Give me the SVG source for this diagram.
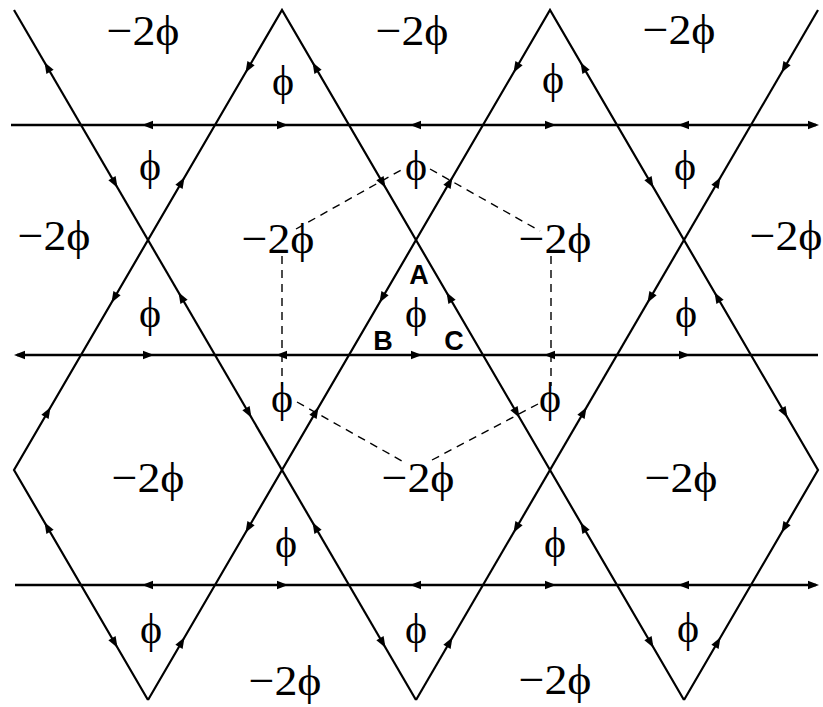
<svg xmlns="http://www.w3.org/2000/svg" xmlns:xlink="http://www.w3.org/1999/xlink" width="823" height="707" viewBox="0 0 823 707">
<style>
.ln{fill:none;stroke:#000;stroke-width:2.2;stroke-linejoin:miter;stroke-miterlimit:10}
.hz{fill:none;stroke:#000;stroke-width:2.4}
.ds{fill:none;stroke:#000;stroke-width:1.4;stroke-dasharray:8 6}
.ah{fill:#000}
.f{font-family:"Liberation Serif","DejaVu Serif",serif;font-size:42px;fill:#000;text-anchor:middle}
.m{font-family:"Liberation Serif","DejaVu Serif",serif;font-size:43px;fill:#000;text-anchor:middle}
.lb{font-family:"Liberation Sans",Arial,sans-serif;font-size:27px;font-weight:bold;fill:#000;text-anchor:middle}
</style>
<defs>
<path id="a" d="M6,0 L-5,-4.2 L-5,4.2 Z"/>
</defs>
<rect width="823" height="707" fill="#fff"/>
<g id="connectors">
<path class="ln" d="M684,700 L282,10 L14,470 L148,700"/>
<path class="ln" d="M148,700 L550,10 L818,470 L684,700"/>
<path class="ln" d="M416,700 L818,10"/>
<path class="ln" d="M14,10 L416,700"/>
<path class="hz" d="M11,125 H816"/>
<path class="hz" d="M17,355 H818"/>
<path class="hz" d="M15,585 H816"/>
<g class="ah">
<use xlink:href="#a" transform="translate(47.5,67.5) rotate(-120.22)"/>
<use xlink:href="#a" transform="translate(114.5,182.5) rotate(59.78)"/>
<use xlink:href="#a" transform="translate(181.5,297.5) rotate(-120.22)"/>
<use xlink:href="#a" transform="translate(248.5,412.5) rotate(59.78)"/>
<use xlink:href="#a" transform="translate(315.5,527.5) rotate(-120.22)"/>
<use xlink:href="#a" transform="translate(382.5,642.5) rotate(59.78)"/>
<use xlink:href="#a" transform="translate(315.5,67.5) rotate(-120.22)"/>
<use xlink:href="#a" transform="translate(382.5,182.5) rotate(59.78)"/>
<use xlink:href="#a" transform="translate(449.5,297.5) rotate(-120.22)"/>
<use xlink:href="#a" transform="translate(516.5,412.5) rotate(59.78)"/>
<use xlink:href="#a" transform="translate(583.5,527.5) rotate(-120.22)"/>
<use xlink:href="#a" transform="translate(650.5,642.5) rotate(59.78)"/>
<use xlink:href="#a" transform="translate(583.5,67.5) rotate(-120.22)"/>
<use xlink:href="#a" transform="translate(650.5,182.5) rotate(59.78)"/>
<use xlink:href="#a" transform="translate(717.5,297.5) rotate(-120.22)"/>
<use xlink:href="#a" transform="translate(784.5,412.5) rotate(59.78)"/>
<use xlink:href="#a" transform="translate(47.5,527.5) rotate(-120.22)"/>
<use xlink:href="#a" transform="translate(114.5,642.5) rotate(59.78)"/>
<use xlink:href="#a" transform="translate(248.5,67.5) rotate(120.22)"/>
<use xlink:href="#a" transform="translate(181.5,182.5) rotate(-59.78)"/>
<use xlink:href="#a" transform="translate(114.5,297.5) rotate(120.22)"/>
<use xlink:href="#a" transform="translate(47.5,412.5) rotate(-59.78)"/>
<use xlink:href="#a" transform="translate(516.5,67.5) rotate(120.22)"/>
<use xlink:href="#a" transform="translate(449.5,182.5) rotate(-59.78)"/>
<use xlink:href="#a" transform="translate(382.5,297.5) rotate(120.22)"/>
<use xlink:href="#a" transform="translate(315.5,412.5) rotate(-59.78)"/>
<use xlink:href="#a" transform="translate(248.5,527.5) rotate(120.22)"/>
<use xlink:href="#a" transform="translate(181.5,642.5) rotate(-59.78)"/>
<use xlink:href="#a" transform="translate(784.5,67.5) rotate(120.22)"/>
<use xlink:href="#a" transform="translate(717.5,182.5) rotate(-59.78)"/>
<use xlink:href="#a" transform="translate(650.5,297.5) rotate(120.22)"/>
<use xlink:href="#a" transform="translate(583.5,412.5) rotate(-59.78)"/>
<use xlink:href="#a" transform="translate(516.5,527.5) rotate(120.22)"/>
<use xlink:href="#a" transform="translate(449.5,642.5) rotate(-59.78)"/>
<use xlink:href="#a" transform="translate(784.5,527.5) rotate(120.22)"/>
<use xlink:href="#a" transform="translate(717.5,642.5) rotate(-59.78)"/>
<use xlink:href="#a" transform="translate(148,125) rotate(180)"/>
<use xlink:href="#a" transform="translate(282,125)"/>
<use xlink:href="#a" transform="translate(416,125) rotate(180)"/>
<use xlink:href="#a" transform="translate(550,125)"/>
<use xlink:href="#a" transform="translate(684,125) rotate(180)"/>
<use xlink:href="#a" transform="translate(813,125)"/>
<use xlink:href="#a" transform="translate(20,355) rotate(180)"/>
<use xlink:href="#a" transform="translate(148,355)"/>
<use xlink:href="#a" transform="translate(282,355) rotate(180)"/>
<use xlink:href="#a" transform="translate(416,355)"/>
<use xlink:href="#a" transform="translate(550,355) rotate(180)"/>
<use xlink:href="#a" transform="translate(684,355)"/>
<use xlink:href="#a" transform="translate(148,585) rotate(180)"/>
<use xlink:href="#a" transform="translate(282,585)"/>
<use xlink:href="#a" transform="translate(416,585) rotate(180)"/>
<use xlink:href="#a" transform="translate(550,585)"/>
<use xlink:href="#a" transform="translate(684,585) rotate(180)"/>
<use xlink:href="#a" transform="translate(813,585)"/>
</g>
<g id="hexagon">
<path class="ds" d="M296,229 L403,169"/>
<path class="ds" d="M430,169 L540,231"/>
<path class="ds" d="M282,256 V386"/>
<path class="ds" d="M551,256 V386"/>
<path class="ds" d="M297,402 L402,461"/>
<path class="ds" d="M432,460 L538,404"/>
</g>
</g>
<g id="flux-m2">
<text class="m" x="143" y="45" textLength="73" lengthAdjust="spacingAndGlyphs">−2ϕ</text>
<text class="m" x="412" y="45" textLength="73" lengthAdjust="spacingAndGlyphs">−2ϕ</text>
<text class="m" x="679" y="44" textLength="73" lengthAdjust="spacingAndGlyphs">−2ϕ</text>
<text class="m" x="54" y="250" textLength="73" lengthAdjust="spacingAndGlyphs">−2ϕ</text>
<text class="m" x="278" y="253" textLength="73" lengthAdjust="spacingAndGlyphs">−2ϕ</text>
<text class="m" x="555" y="253" textLength="73" lengthAdjust="spacingAndGlyphs">−2ϕ</text>
<text class="m" x="786" y="250" textLength="73" lengthAdjust="spacingAndGlyphs">−2ϕ</text>
<text class="m" x="148" y="492" textLength="73" lengthAdjust="spacingAndGlyphs">−2ϕ</text>
<text class="m" x="418" y="492" textLength="73" lengthAdjust="spacingAndGlyphs">−2ϕ</text>
<text class="m" x="681" y="492" textLength="73" lengthAdjust="spacingAndGlyphs">−2ϕ</text>
<text class="m" x="285" y="695" textLength="73" lengthAdjust="spacingAndGlyphs">−2ϕ</text>
<text class="m" x="555" y="694" textLength="73" lengthAdjust="spacingAndGlyphs">−2ϕ</text>
</g>
<g id="flux-p">
<text class="f" x="150" y="180">ϕ</text>
<text class="f" x="283" y="95">ϕ</text>
<text class="f" x="553" y="93">ϕ</text>
<text class="f" x="685" y="180">ϕ</text>
<text class="f" x="416" y="180">ϕ</text>
<text class="f" x="150" y="327">ϕ</text>
<text class="f" x="416" y="327">ϕ</text>
<text class="f" x="686" y="327">ϕ</text>
<text class="f" x="282" y="412">ϕ</text>
<text class="f" x="550" y="412">ϕ</text>
<text class="f" x="286" y="557">ϕ</text>
<text class="f" x="555" y="557">ϕ</text>
<text class="f" x="151" y="643">ϕ</text>
<text class="f" x="416" y="643">ϕ</text>
<text class="f" x="688" y="642">ϕ</text>
</g>
<g id="labels">
<text class="lb" x="419" y="284">A</text>
<text class="lb" x="383" y="350">B</text>
<text class="lb" x="454" y="350">C</text>
</g>
</svg>
